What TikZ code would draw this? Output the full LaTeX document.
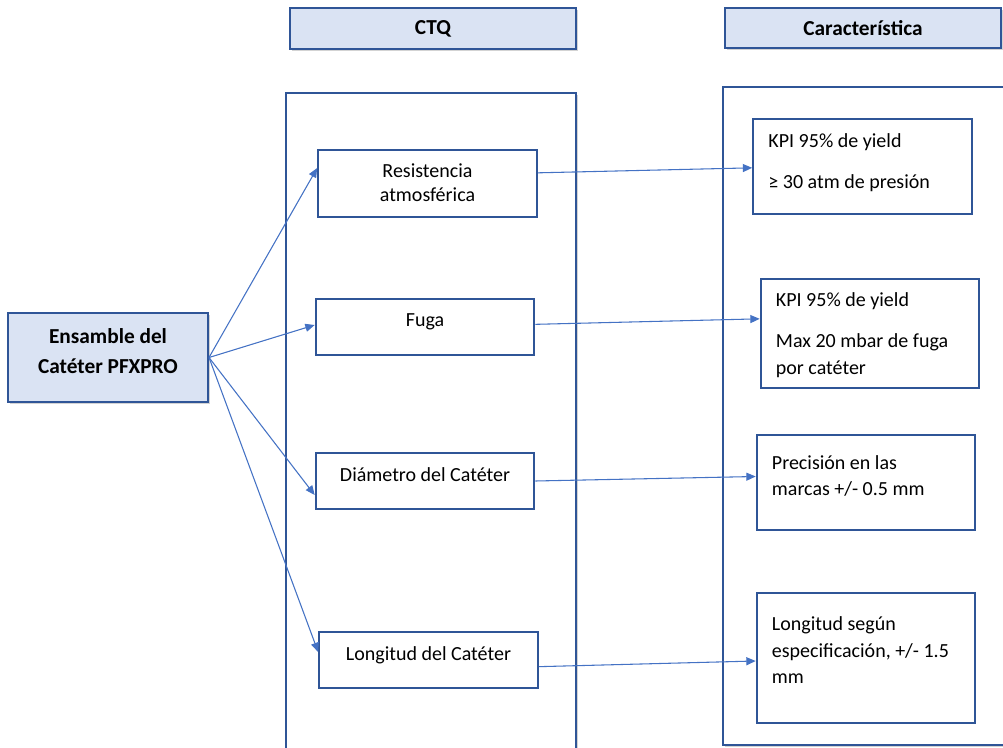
\documentclass[tikz,border=0pt]{standalone}
\usepackage{fontspec}
\setmainfont{Carlito}
\usetikzlibrary{arrows.meta,shadows}
\definecolor{frameblue}{HTML}{2F5597}
\definecolor{headfill}{HTML}{DAE3F3}
\definecolor{linkblue}{HTML}{4472C4}

\begin{document}
\begin{tikzpicture}[x=0.75pt,y=-0.75pt,
  blueline/.style={draw=frameblue,line width=1.5pt},
  boxshadow/.style={drop shadow={shadow xshift=1.5pt,shadow yshift=-1.5pt,opacity=0.35}},
  headbox/.style={blueline,boxshadow,fill=headfill,font=\fontsize{16}{20}\selectfont\bfseries},
  ctqbox/.style={blueline,fill=white,minimum width=164pt,minimum height=42pt},
  ctqtext/.style={anchor=north,yshift=-11.75pt,align=center,inner sep=0pt,font=\fontsize{15}{18}\selectfont},
  kpibox/.style={blueline,fill=white,minimum width=164pt},
  kpitext/.style={anchor=north west,xshift=12pt,align=left,inner sep=0pt,font=\fontsize{15}{20}\selectfont},
  arrowlink/.style={-{Triangle[length=7pt,width=6pt]},linkblue,line width=0.8pt}]
  \useasboundingbox (0,0) rectangle (1003,748);
  \clip (0,0) rectangle (1003,748);

  % column frames
  \draw[blueline,boxshadow,fill=white] (286,93) rectangle (576,760);
  \draw[blueline,boxshadow,fill=white] (723,87) rectangle (1012,745);

  % headers
  \node[headbox,minimum width=214.5pt,minimum height=30.75pt] (ctqhead) at (433,28.5) {CTQ};
  \node[headbox,minimum width=207pt,minimum height=30pt] (carhead) at (863,28) {Característica};

  % assembly
  \node[headbox,minimum width=150pt,minimum height=66.75pt,
    label={[ctqtext,yshift=-0.25pt,font=\fontsize{16}{22.5}\selectfont\bfseries]north:Ensamble del\\Catéter PFXPRO}] (lb) at (108,357.5) {};

  % CTQ boxes
  \node[ctqbox,minimum height=50.25pt,label={[ctqtext,yshift=1pt]north:Resistencia\\atmosférica}] (res) at (427.5,183.5) {};
  \node[ctqbox,label={[ctqtext]north:Fuga}] (fuga) at (425,327) {};
  \node[ctqbox,label={[ctqtext]north:Diámetro del Catéter}] (dia) at (425,481) {};
  \node[ctqbox,label={[ctqtext]north:Longitud del Catéter}] (lon) at (428.5,660) {};

  % characteristic boxes
  \node[kpibox,minimum height=71.25pt,
    label={[kpitext,yshift=-11.25pt]north west:KPI 95\% de yield\\[11pt]≥ 30 atm de presión}] (k1) at (862.5,166.5) {};
  \node[kpibox,minimum height=81.75pt,
    label={[kpitext,yshift=-10.5pt]north west:KPI 95\% de yield\\[11pt]Max 20 mbar de fuga\\por catéter}] (k2) at (870,333.5) {};
  \node[kpibox,minimum height=71.25pt,
    label={[kpitext,yshift=-15.75pt]north west:Precisión en las\\marcas +/- 0.5 mm}] (k3) at (866,482.5) {};
  \node[kpibox,minimum height=97.5pt,
    label={[kpitext,yshift=-18.25pt]north west:Longitud según\\especificación, +/- 1.5\\mm}] (k4) at (866,658) {};

  % arrows
  \draw[arrowlink] (lb.east) -- ([yshift=11.6pt]res.west);
  \draw[arrowlink] (lb.east) -- ([yshift=1.5pt]fuga.west);
  \draw[arrowlink] (lb.east) -- ([yshift=-10.5pt]dia.west);
  \draw[arrowlink] (lb.east) -- ([yshift=6pt]lon.west);
  \draw[arrowlink] ([yshift=8pt]res.east) -- ([yshift=-1pt]k1.west);
  \draw[arrowlink] ([yshift=2pt]fuga.east) -- ([yshift=11pt]k2.west);
  \draw[arrowlink] (dia.east) -- ([yshift=4.5pt]k3.west);
  \draw[arrowlink] ([yshift=-5pt]lon.east) -- ([yshift=-2.25pt]k4.west);
\end{tikzpicture}
\end{document}
